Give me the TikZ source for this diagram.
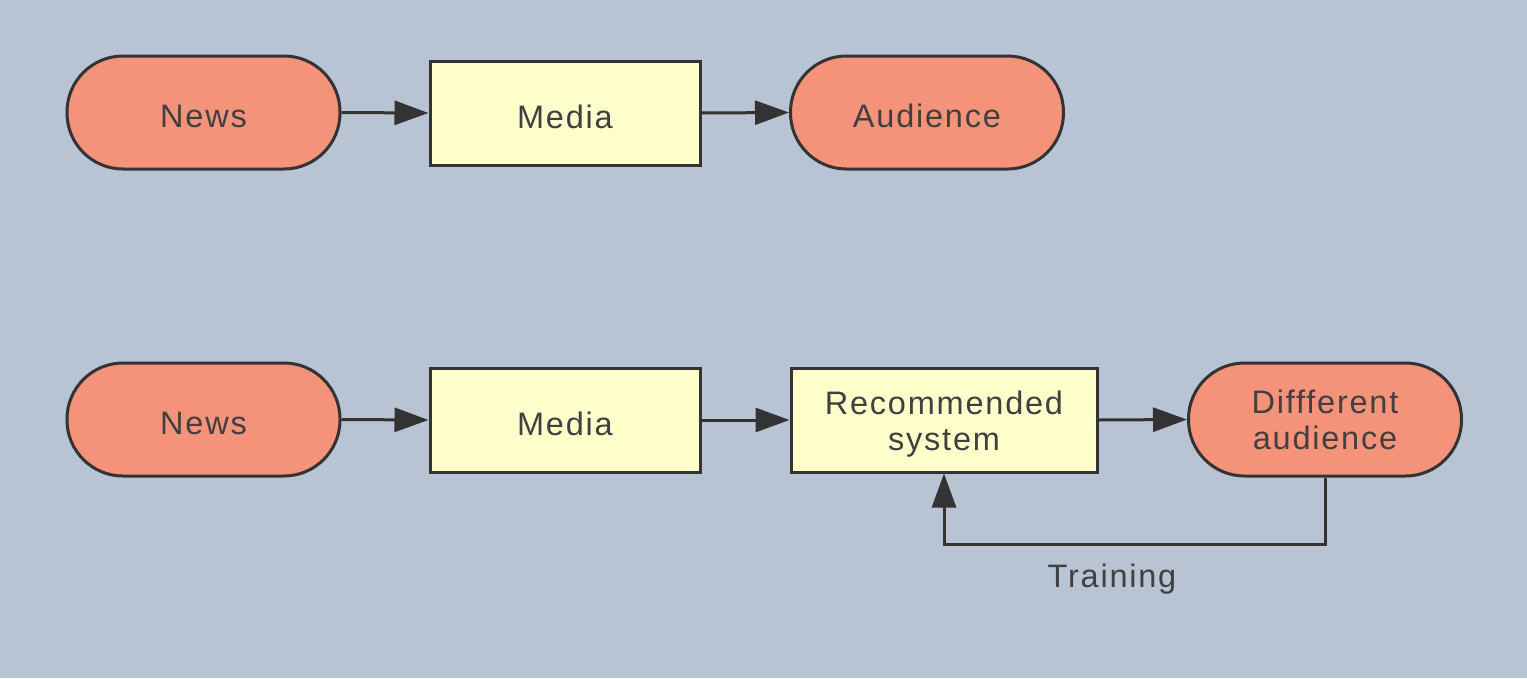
\documentclass[tikz,border=0pt]{standalone}
\usepackage{fontspec}
\setmainfont{Liberation Sans}[LetterSpace=5.5]
\usetikzlibrary{arrows.meta}
\definecolor{bg}{HTML}{B8C4D4}
\definecolor{salmon}{HTML}{F4937A}
\definecolor{pale}{HTML}{FFFFCC}
\definecolor{ink}{HTML}{333333}
\definecolor{txt}{HTML}{404040}
\tikzset{
  base/.style={draw=ink, line width=3pt, text=txt, align=center, font=\fontsize{32.5}{36}\selectfont, inner sep=0pt},
  term/.style={base, fill=salmon, rounded corners=56pt, minimum width=273pt, minimum height=113pt},
  procbox/.style={base, fill=pale, minimum height=104pt},
  oneline/.style={text height=30pt, text depth=0pt},
  twoline/.style={text height=66pt, text depth=6pt},
  conn/.style={draw=ink, line width=3pt, -{Triangle[length=34pt,width=24pt]}},
}
\begin{document}
\begin{tikzpicture}[x=1pt,y=-1pt]
\fill[bg] (0,0) rectangle (1527,678);
\useasboundingbox (0,0) rectangle (1527,678);
\node[term, oneline] (n1) at (203.5,112.5) {News};
\node[procbox, oneline, minimum width=270pt] (m1) at (565,113) {Media};
\node[term, oneline] (a1) at (927,112.5) {Audience};
\node[term, oneline] (n2) at (203.5,419.5) {News};
\node[procbox, oneline, minimum width=270pt] (m2) at (565,420) {Media};
\node[procbox, twoline, minimum width=306pt] (r2) at (944,420) {Recommended\\system};
\node[term, twoline] (d2) at (1325,419.5) {Diffferent\\audience};
\coordinate (c1) at (1325,544);
\coordinate (c2) at (944,544);
\draw[conn] (n1.east) -- (m1.west);
\draw[conn] (m1.east) -- (a1.west);
\draw[conn] (n2.east) -- (m2.west);
\draw[conn] (m2.east) -- (r2.west);
\draw[conn] (r2.east) -- (d2.west);
\draw[conn] (d2.south) -- (c1) -- (c2) -- (r2.south);
\node[text=txt, font=\fontsize{32.5}{36}\selectfont] (t) at (1112,579) {Training};
\end{tikzpicture}
\end{document}
